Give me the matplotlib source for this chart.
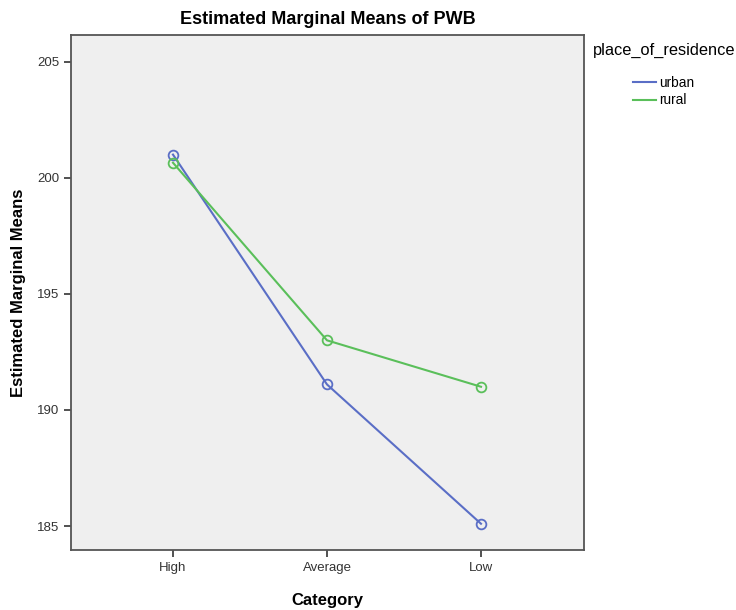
import numpy as np
import matplotlib
matplotlib.use('Agg')
import matplotlib.pyplot as plt
from matplotlib.lines import Line2D

matplotlib.rc('font', family=['Liberation Sans', 'DejaVu Sans'])

# Estimated marginal means
categories = ['High', 'Average', 'Low']
urban = [201.0, 191.1, 185.1]
rural = [200.65, 193.0, 191.0]
legend_title = 'place_of_residence'

blue = '#5a6ec6'
green = '#5abf5a'

fig = plt.figure(figsize=(7.36, 6.1), dpi=100)
ax = fig.add_axes([0.0965, 0.0984, 0.697, 0.8442])
ax.set_facecolor('#efefef')

x = np.arange(len(categories))
ax.plot(x, urban, color=blue, lw=1.5, marker='o', ms=7,
        mfc='none', mec=blue, mew=1.3)
ax.plot(x, rural, color=green, lw=1.5, marker='o', ms=7,
        mfc='none', mec=green, mew=1.3)

ax.set_xlim(-0.662, 2.669)
ax.set_ylim(183.97, 206.15)
ax.set_xticks(x)
ax.set_xticklabels(categories)
ax.set_yticks([185, 190, 195, 200, 205])
ax.tick_params(labelsize=9.5, colors='#333333', length=5, width=1.2)

for s in ax.spines.values():
    s.set_color('#555555')
    s.set_linewidth(1.3)

ax.set_title('Estimated Marginal Means of PWB', fontsize=13,
             fontweight='bold', pad=8)
ax.set_xlabel('Category', fontsize=12, fontweight='bold', labelpad=14)
ax.set_ylabel('Estimated Marginal Means', fontsize=12, fontweight='bold',
              labelpad=8)

# legend: title as separate text, entries right-aligned underneath
fig.text(593 / 736, 1 - 50 / 610, legend_title, fontsize=11.8,
         ha='left', va='center')
handles = [Line2D([], [], color=blue, lw=1.5),
           Line2D([], [], color=green, lw=1.5)]
fig.legend(handles, ['urban', 'rural'], loc='upper left',
           bbox_to_anchor=(633 / 736, 1 - 76 / 610),
           bbox_transform=fig.transFigure, frameon=False,
           fontsize=9.8, handlelength=1.7, handletextpad=0.2,
           labelspacing=0.25, borderaxespad=0, borderpad=0)

fig.savefig('out.png', dpi=100)
